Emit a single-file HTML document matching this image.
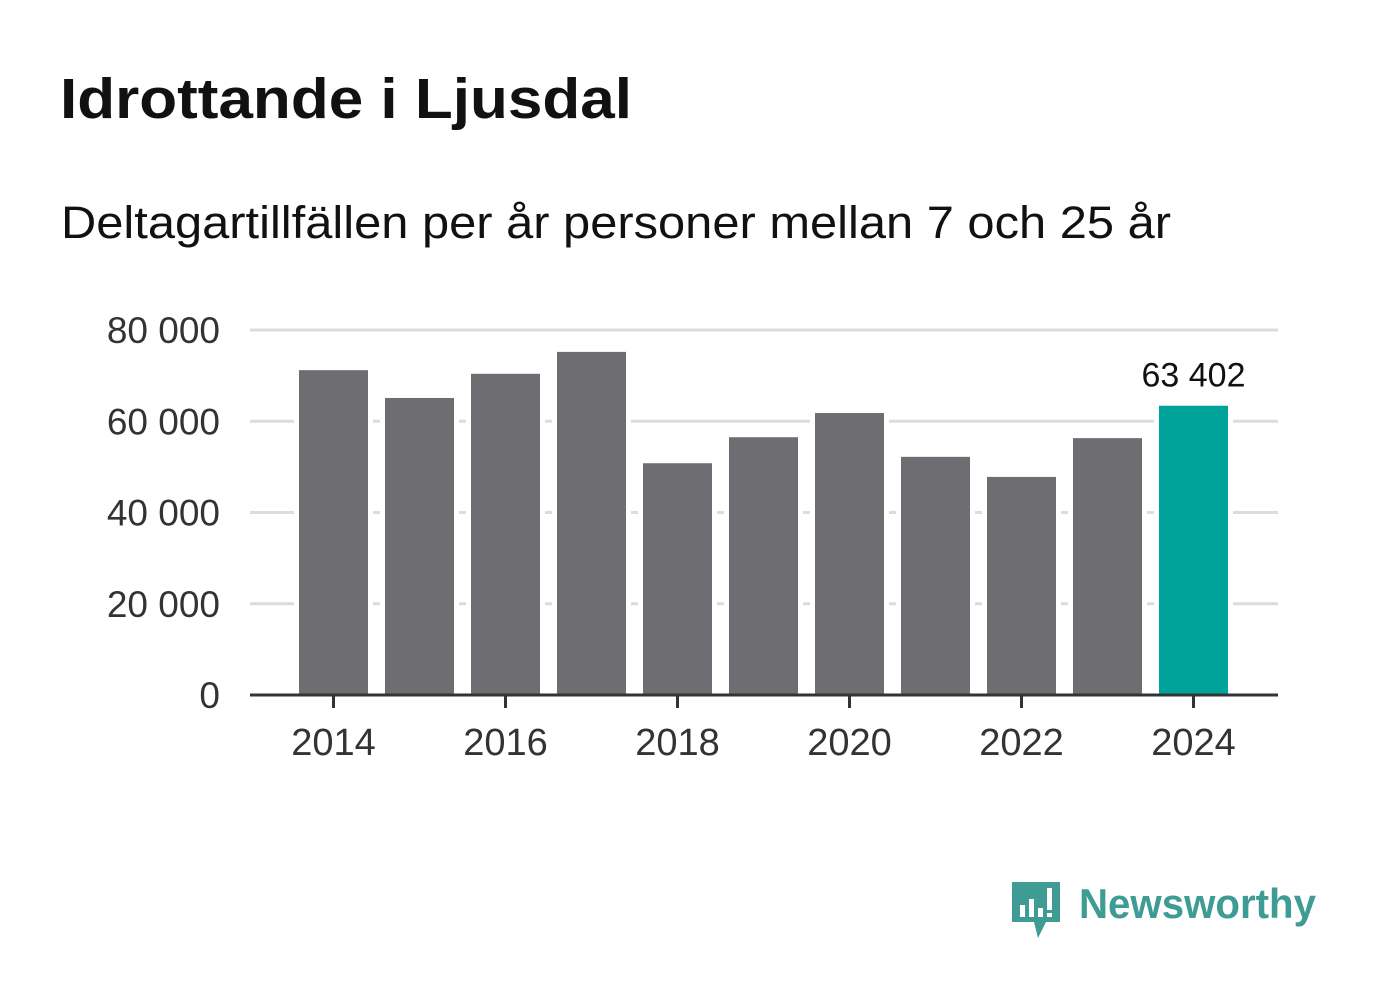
<!DOCTYPE html>
<html><head><meta charset="utf-8"><style>
body{margin:0;background:#fff;width:1382px;height:999px;overflow:hidden;font-family:"Liberation Sans","DejaVu Sans",sans-serif}
</style></head><body>
<svg width="1382" height="999" xmlns="http://www.w3.org/2000/svg">
<text x="60" y="118" font-size="57" font-weight="bold" fill="#111" textLength="572" lengthAdjust="spacingAndGlyphs">Idrottande i Ljusdal</text>
<text x="61" y="238" font-size="45" fill="#111" textLength="1110" lengthAdjust="spacingAndGlyphs">Deltagartillfällen per år personer mellan 7 och 25 år</text>
<g id="grid"></g><g id="bars"></g><g id="axes"></g>
<g>
<path d="M1012 882 h48 v40 h-14 l-8 16 l-4 -16 h-22 z" fill="#3f9c95"/>
<rect x="1020" y="905" width="5" height="12" fill="#fff"/>
<rect x="1029" y="899" width="5" height="18" fill="#fff"/>
<rect x="1038" y="908" width="5" height="9" fill="#fff"/>
<rect x="1047" y="888" width="5" height="22" fill="#fff"/>
<rect x="1047" y="913" width="5" height="4" fill="#fff"/>
<text x="1079" y="918" font-size="42" font-weight="bold" fill="#3f9c95" textLength="237" lengthAdjust="spacingAndGlyphs">Newsworthy</text>
</g>
</svg>
<script>
const years=[2014,2015,2016,2017,2018,2019,2020,2021,2022,2023,2024];
const values=[71200,65100,70400,75200,50800,56500,61800,52200,47800,56300,63402];
const yTicks=[0,20000,40000,60000,80000];
const yTickLabels=["0","20 000","40 000","60 000","80 000"];
const xTickYears=[2014,2016,2018,2020,2022,2024];
const NS="http://www.w3.org/2000/svg";
const y=v=>695-v*365/80000;
const x=yr=>333.5+(yr-2014)*86;
const bw=69;
function el(t,a,p){const e=document.createElementNS(NS,t);for(const k in a)e.setAttribute(k,a[k]);p.appendChild(e);return e;}
const grid=document.getElementById('grid'),bars=document.getElementById('bars'),axes=document.getElementById('axes');
yTicks.forEach((t,i)=>{
 if(t>0){const l=el('line',{x1:250,x2:1278,y1:y(t),y2:y(t),stroke:'#dcdcdc','stroke-width':3},grid);
 
 }
 const tx=el('text',{x:220,y:y(t)+13,'text-anchor':'end','font-size':37,fill:'#333'},axes);
 tx.textContent=yTickLabels[i];
 
 
});
years.forEach((yr,i)=>{
 el('rect',{x:x(yr)-bw/2-5,y:y(values[i])-5,width:bw+10,height:695-y(values[i])+5,fill:'#fff'},bars);
 const last=i===years.length-1;
 const r=el('rect',{x:x(yr)-bw/2,y:y(values[i]),width:bw,height:695-y(values[i]),fill:last?'#00a39a':'#6e6d72'},bars);
 
 
 if(last){const t=el('text',{x:x(yr),y:y(values[i])-19,'text-anchor':'middle','font-size':34,fill:'#111'},bars);
 t.textContent=values[i].toLocaleString('en').replace(',',' ');
 
 }
});
const ax=el('line',{x1:250,x2:1278,y1:695,y2:695,stroke:'#333','stroke-width':3},axes);


xTickYears.forEach(yr=>{
 const tk=el('line',{x1:x(yr),x2:x(yr),y1:695,y2:708,stroke:'#333','stroke-width':3},axes);
 
 
 const t=el('text',{x:x(yr),y:755,'text-anchor':'middle','font-size':38,fill:'#333'},axes);
 t.textContent=yr;
 
 
});
</script>
</body></html>
